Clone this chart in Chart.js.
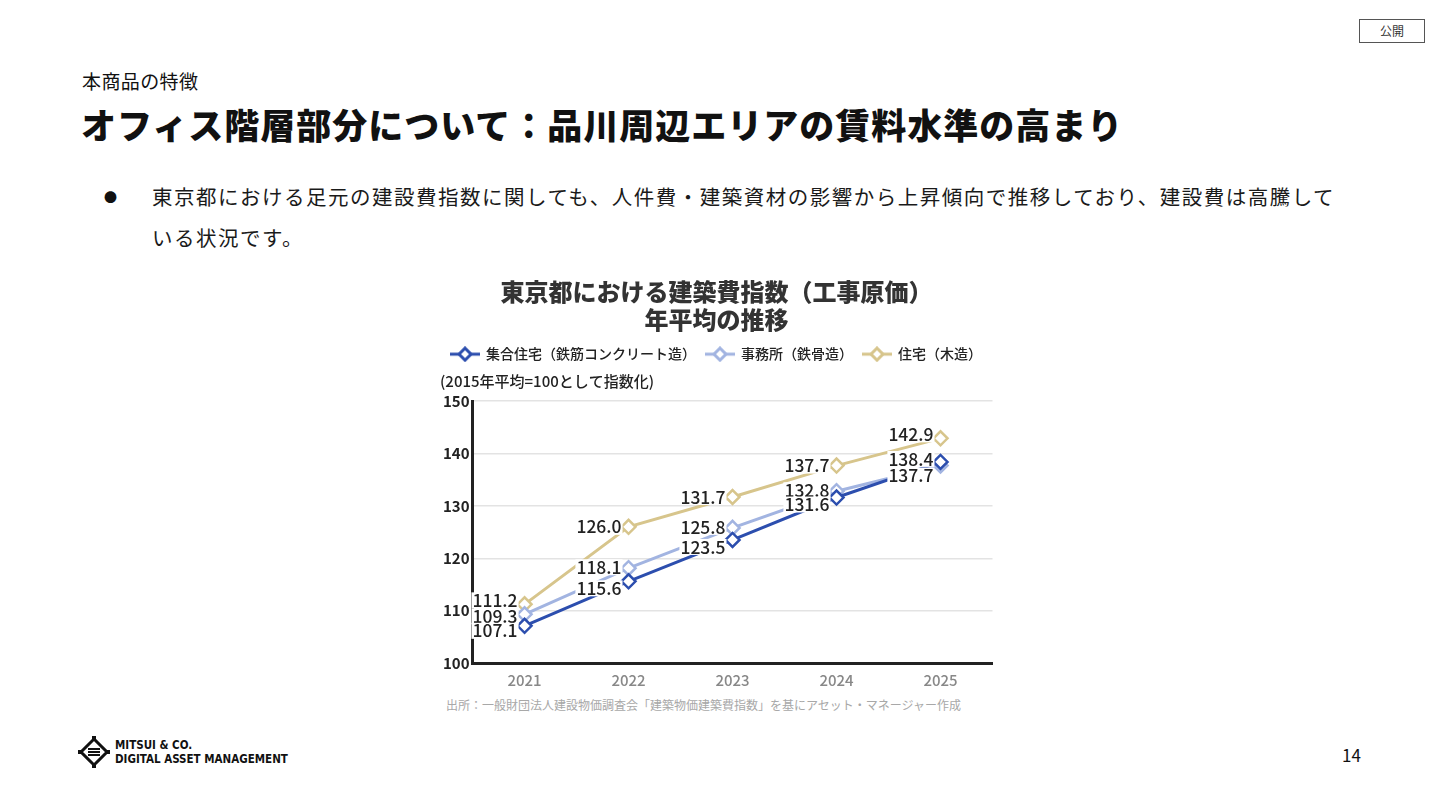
<!DOCTYPE html>
<html lang="ja">
<head>
<meta charset="utf-8">
<script src="https://cdn.jsdelivr.net/npm/chart.js@4"></script>
<style>
  html, body { margin: 0; padding: 0; background: #fff; }
  body { width: 1440px; height: 810px; position: relative; overflow: hidden;
         font-family: "Noto Sans CJK JP", "Noto Sans", sans-serif; color: #111; }
  .badge { position: absolute; left: 1359px; top: 19px; width: 64px; height: 22px;
           border: 1.5px solid #555; font-size: 12px; color: #333; text-align: center; line-height: 22px; }
  .kicker { position: absolute; left: 82px; top: 67px; font-size: 19px; letter-spacing: 0.4px; white-space: nowrap; }
  .title { position: absolute; left: 81px; top: 98px; font-size: 35px; font-weight: 900;
           letter-spacing: 1.0px; white-space: nowrap; }
  .bullet { position: absolute; left: 104px; top: 187px; font-size: 13px; }
  .body { position: absolute; left: 152px; top: 176px; font-size: 20.5px; line-height: 41px;
          letter-spacing: 1.5px; white-space: nowrap; color: #1a1a1a; }
  #wrap { position: absolute; left: 436px; top: 268px; width: 566px; height: 421px; }
  .source { position: absolute; left: 446px; top: 696px; font-size: 12px; color: #a8a8a8; white-space: nowrap; }
  .logo { position: absolute; left: 78px; top: 736px; }
  .logotext { position: absolute; left: 115px; top: 738px; font-family: "DejaVu Sans Condensed", "Liberation Sans Narrow", sans-serif;
              font-size: 11.5px; font-weight: bold; line-height: 14px; color: #111; white-space: nowrap; }
  .page { position: absolute; left: 1342px; top: 742px; font-size: 17px; }
</style>
</head>
<body>
<div class="badge">公開</div>
<div class="kicker">本商品の特徴</div>
<div class="title">オフィス階層部分について：品川周辺エリアの賃料水準の高まり</div>
<div class="bullet">●</div>
<div class="body">東京都における足元の建設費指数に関しても、人件費・建築資材の影響から上昇傾向で推移しており、建設費は高騰して<br>いる状況です。</div>

<div id="wrap"><canvas id="chart"></canvas></div>
<div class="source">出所：一般財団法人建設物価調査会「建築物価建築費指数」を基にアセット・マネージャー作成</div>

<svg class="logo" width="32" height="32" viewBox="0 0 32 32">
  <g fill="none" stroke="#111" stroke-width="3">
    <path d="M16 3 L29 16 L16 29 L3 16 Z"/>
  </g>
  <g fill="#111">
    <rect x="10" y="12" width="12" height="2"/>
    <rect x="10" y="15" width="12" height="2"/>
    <rect x="10" y="18" width="12" height="2"/>
    <rect x="14" y="0" width="4" height="4"/>
    <rect x="14" y="28" width="4" height="4"/>
    <rect x="0" y="14" width="4" height="4"/>
    <rect x="28" y="14" width="4" height="4"/>
  </g>
</svg>
<div class="logotext">MITSUI &amp; CO.<br>DIGITAL ASSET MANAGEMENT</div>
<div class="page">14</div>

<script>
const years = ['2021', '2022', '2023', '2024', '2025'];
const seriesNames = ['集合住宅（鉄筋コンクリート造）', '事務所（鉄骨造）', '住宅（木造）'];
const apartment = [107.1, 115.6, 123.5, 131.6, 138.4];
const office = [109.3, 118.1, 125.8, 132.8, 137.7];
const house = [111.2, 126.0, 131.7, 137.7, 142.9];
const yTicks = [100, 110, 120, 130, 140, 150];

const colors = ['#2c4eae', '#a2b4e1', '#d7c58c'];
const jp = '"Noto Sans CJK JP", sans-serif';

// legend icon: line with hollow diamond
function legendIcon(color) {
  const c = document.createElement('canvas');
  c.width = 30; c.height = 16;
  const g = c.getContext('2d');
  g.strokeStyle = color; g.lineWidth = 3;
  g.beginPath(); g.moveTo(0, 8); g.lineTo(30, 8); g.stroke();
  g.fillStyle = '#fff';
  g.beginPath(); g.moveTo(15, 2); g.lineTo(21, 8); g.lineTo(15, 14); g.lineTo(9, 8); g.closePath();
  g.fill(); g.stroke();
  return c;
}

// value labels, left of each point on a white box
const valueLabels = {
  id: 'valueLabels',
  afterDatasetsDraw(chart, args, opts) {
    const ctx = chart.ctx;
    ctx.save();
    ctx.font = '500 17.5px ' + jp;
    ctx.textAlign = 'right';
    ctx.textBaseline = 'middle';
    // last series first, so the first series' labels sit on top
    for (let di = chart.data.datasets.length - 1; di >= 0; di--) {
      const ds = chart.data.datasets[di];
      const meta = chart.getDatasetMeta(di);
      meta.data.forEach((pt, i) => {
        const txt = ds.data[i].toFixed(1);
        let dy = opts.dy[di];
        if (i === 0) dy = opts.firstDy[di];
        if (i === ds.data.length - 1) dy = opts.lastDy[di];
        const x = pt.x - 7, y = pt.y + dy;
        const w = ctx.measureText(txt).width;
        ctx.fillStyle = '#fff';
        ctx.fillRect(x - w - 1, y - 8, w + 2, 16);
        ctx.fillStyle = '#222';
        ctx.fillText(txt, x, y);
      });
    }
    ctx.restore();
  }
};

const makeSet = (label, data, color) => ({
  label, data,
  borderColor: color,
  backgroundColor: '#fff',
  borderWidth: 3,
  pointStyle: 'rectRot',
  pointRadius: 7,
  pointBorderWidth: 2.5,
  pointBackgroundColor: '#fff',
  pointBorderColor: color,
  tension: 0,
  fill: false
});

new Chart(document.getElementById('chart'), {
  type: 'line',
  data: {
    labels: years,
    datasets: [
      makeSet(seriesNames[0], apartment, colors[0]),
      makeSet(seriesNames[1], office, colors[1]),
      makeSet(seriesNames[2], house, colors[2])
    ]
  },
  plugins: [valueLabels],
  options: {
    responsive: true,
    maintainAspectRatio: false,
    animation: false,
    layout: { padding: { left: 4, right: 9, top: 6, bottom: 0 } },
    plugins: {
      title: {
        display: true,
        text: ['東京都における建築費指数（工事原価）', '年平均の推移'],
        font: { family: jp, size: 24, weight: '900', lineHeight: 1.17 },
        color: '#333',
        padding: { top: 4, bottom: 3 }
      },
      subtitle: {
        display: true,
        weight: 500,
        text: '(2015年平均=100として指数化)',
        align: 'start',
        font: { family: jp, size: 15, weight: '500' },
        color: '#222',
        padding: { top: 1, bottom: 11 }
      },
      legend: {
        display: true,
        position: 'top',
        labels: {
          usePointStyle: true,
          pointStyleWidth: 28,
          boxHeight: 14,
          padding: 10,
          color: '#222',
          font: { family: jp, size: 14, weight: '500' },
          generateLabels(chart) {
            return chart.data.datasets.map((ds, i) => ({
              text: ds.label,
              pointStyle: legendIcon(colors[i]),
              fillStyle: '#fff',
              strokeStyle: colors[i],
              lineWidth: 0,
              fontColor: '#222',
              datasetIndex: i
            }));
          }
        }
      },
      tooltip: { enabled: false },
      valueLabels: {
        firstDy: [5, 2, -4],
        dy: [7, -1, 0],
        lastDy: [-3, 10, -4]
      }
    },
    scales: {
      x: {
        offset: true,
        grid: { display: false },
        border: { color: '#222', width: 3 },
        ticks: { color: '#888', padding: 0, font: { family: jp, size: 15, weight: '500' } }
      },
      y: {
        min: yTicks[0],
        max: yTicks[yTicks.length - 1],
        afterBuildTicks(scale) { scale.ticks = yTicks.map(v => ({ value: v })); },
        grid: { color: '#e3e3e3', lineWidth: 1.5, drawTicks: false },
        border: { color: '#222', width: 3 },
        ticks: { color: '#222', padding: 3, font: { family: jp, size: 15, weight: 'bold' } }
      }
    }
  }
});
</script>
</body>
</html>
